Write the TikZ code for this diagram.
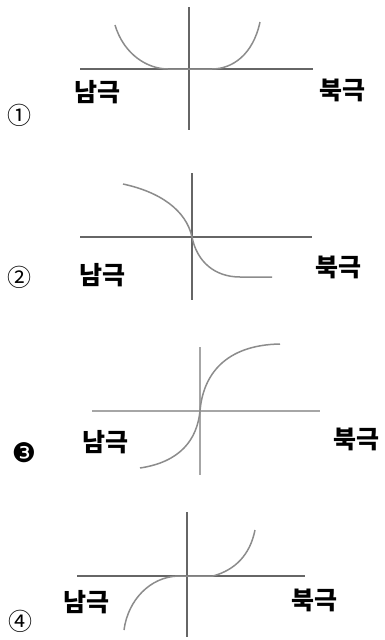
\documentclass[tikz,border=0pt]{standalone}
\usepackage{fontspec}
\usepackage{tikz}
\newfontfamily\kor{Noto Sans CJK KR}
\newfontfamily\dejavu{DejaVu Sans}

\begin{document}
\begin{tikzpicture}[
		x=1pt, y=-1pt,
		axis/.style={draw=black!60, line width=1.4pt},
		faintaxis/.style={draw=black!35, line width=1.4pt},
		curve/.style={draw=black!45, line width=1.5pt},
		pole/.style={font=\kor\bfseries\fontsize{25}{27}\selectfont, inner sep=0pt},
		num/.style={font=\kor\fontsize{24}{26}\selectfont, inner sep=0pt}
		]
		\useasboundingbox[fill=white] (0,0) rectangle (384,640);
		
		% Graph 1
		\draw[axis] (80,69) -- (313,69);
		\draw[axis] (189,7) -- (189,130);
		\draw[curve] (115,25) .. controls (124,55) and (148,69) .. (168,69) -- (212,69) .. controls (232,69) and (253,55) .. (260,22);
		\node[pole] (south1) at (97,92) {남극};
		\node[pole] (north1) at (342,90) {북극};
		\node[num] (num1) at (20,115) {①};
		
		% Graph 2
		\draw[axis] (80,237) -- (312,237);
		\draw[axis] (192,173) -- (192,300);
		\draw[curve] (123,184) .. controls (160,192) and (186,210) .. (192,237) .. controls (197,262) and (215,277) .. (240,277) -- (272,277);
		\node[pole] (south2) at (102,275) {남극};
		\node[pole] (north2) at (338,267) {북극};
		\node[num] (num2) at (20,277) {②};
		
		% Graph 3
		\draw[faintaxis] (92,411) -- (320,411);
		\draw[faintaxis] (200,347) -- (200,475);
		\draw[curve] (140,468) .. controls (180,462) and (197,440) .. (200,411) .. controls (203,375) and (225,345) .. (280,344);
		\node[pole] (south3) at (105,442) {남극};
		\node[pole] (north3) at (356,439) {북극};
		\node[num, font=\dejavu\fontsize{27}{29}\selectfont] (num3) at (24,453) {❸};
		
		% Graph 4
		\draw[axis] (77,576) -- (305,576);
		\draw[axis] (187,512) -- (187,637);
		\draw[curve] (124,630) .. controls (128,600) and (150,577) .. (178,576) -- (213,576) .. controls (235,570) and (250,555) .. (255,530);
		\node[pole] (south4) at (86,602) {남극};
		\node[pole] (north4) at (314,600) {북극};
		\node[num] (num4) at (21,621) {④};
		
	\end{tikzpicture}
\end{document}
